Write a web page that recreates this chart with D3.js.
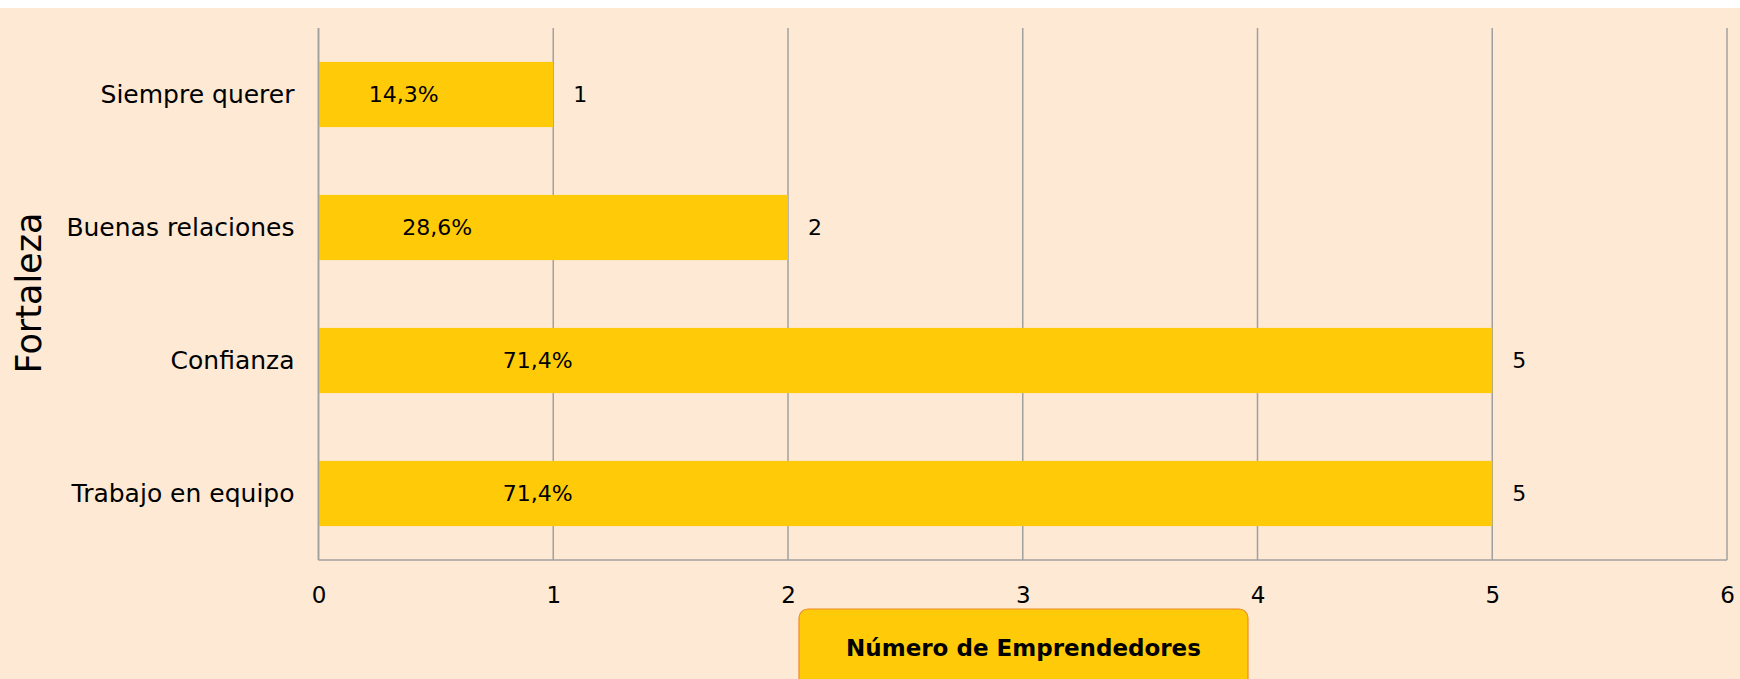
<!DOCTYPE html>
<html>
<head>
<meta charset="utf-8">
<script src="https://cdn.jsdelivr.net/npm/d3@7"></script>
<style>
  body { margin: 0; background: #ffffff; }
  text { font-family: "DejaVu Sans", sans-serif; fill: #000; }
</style>
</head>
<body>
<div id="chart"></div>
<script>
// data
const categories = ["Siempre querer", "Buenas relaciones", "Confianza", "Trabajo en equipo"];
const counts = [1, 2, 5, 5];
const percents = [14.3, 28.6, 71.4, 71.4];
const xTicks = [0, 1, 2, 3, 4, 5, 6];
const yTitle = "Fortaleza";
const xTitle = "Número de Emprendedores";

const width = 1740, height = 679;
const margin = {top: 28, right: 9, bottom: 119, left: 318.5};
const innerWidth = width - margin.left - margin.right;
const innerHeight = height - margin.top - margin.bottom;

const barColor = "#ffcb08";
const gridColor = "#a0a0a0";

const svg = d3.select("#chart")
    .append("svg")
    .attr("width", width)
    .attr("height", height);

// background
svg.append("rect")
    .attr("x", 0).attr("y", 8)
    .attr("width", width).attr("height", height - 8)
    .attr("fill", "#fde9d4");

const g = svg.append("g")
    .attr("transform", `translate(${margin.left},${margin.top})`);

const xScale = d3.scaleLinear().domain([0, 6]).range([0, innerWidth - 4]);
const yScale = d3.scaleBand().domain(categories).range([0, innerHeight])
    .paddingInner(0.51).paddingOuter(0.255);

// ---- gridlines ----
g.selectAll(".grid")
    .data(xTicks)
    .join("line")
    .attr("x1", d => xScale(d)).attr("x2", d => xScale(d))
    .attr("y1", 0).attr("y2", innerHeight)
    .attr("stroke", gridColor)
    .attr("stroke-width", 1.5);

// ---- bars ----
g.selectAll(".bar")
    .data(categories)
    .join("rect")
    .attr("x", xScale(0))
    .attr("y", d => yScale(d))
    .attr("width", (d, i) => xScale(counts[i]) - xScale(0))
    .attr("height", yScale.bandwidth())
    .attr("fill", barColor);

// baseline + left axis line
g.append("line")
    .attr("x1", 0).attr("x2", xScale(6))
    .attr("y1", innerHeight).attr("y2", innerHeight)
    .attr("stroke", gridColor).attr("stroke-width", 1.5);
g.append("line")
    .attr("x1", 0).attr("x2", 0)
    .attr("y1", 0).attr("y2", innerHeight)
    .attr("stroke", gridColor).attr("stroke-width", 1.5);

// ---- bottom axis labels ----
const xAxis = g.append("g")
    .attr("transform", `translate(0,${innerHeight})`)
    .call(d3.axisBottom(xScale).tickValues(xTicks).tickSize(0).tickPadding(0).tickFormat(d3.format("d")));
xAxis.select(".domain").remove();
xAxis.attr("font-size", null).attr("font-family", null);
xAxis.selectAll("text")
    .attr("y", 35)
    .attr("dy", "0.35em")
    .style("font-size", "23px")
    .attr("fill", "#000");

// ---- left axis labels ----
const yAxis = g.append("g")
    .call(d3.axisLeft(yScale).tickSize(0).tickPadding(24));
yAxis.select(".domain").remove();
yAxis.attr("font-size", null).attr("font-family", null);
yAxis.selectAll("text")
    .style("font-size", "25px")
    .attr("fill", "#000");

// ---- value labels ----
g.selectAll(".val")
    .data(categories)
    .join("text")
    .attr("x", (d, i) => xScale(counts[i]) + 20)
    .attr("y", d => yScale(d) + yScale.bandwidth() / 2)
    .attr("dy", "0.35em")
    .style("font-size", "22px")
    .text((d, i) => counts[i]);

// ---- percent labels ----
g.selectAll(".pct")
    .data(categories)
    .join("text")
    .attr("x", (d, i) => xScale(percents[i] / 100 + 0.22))
    .attr("y", d => yScale(d) + yScale.bandwidth() / 2)
    .attr("dy", "0.35em")
    .attr("text-anchor", "middle")
    .style("font-size", "22px")
    .text((d, i) => d3.format(".1f")(percents[i]).replace(".", ",") + "%");

// ---- y title ----
svg.append("text")
    .attr("transform", `translate(41,${margin.top + 265}) rotate(-90)`)
    .attr("text-anchor", "middle")
    .style("font-size", "35px")
    .text(yTitle);

// ---- x title box ----
svg.append("rect")
    .attr("x", 799).attr("y", 609)
    .attr("width", 449).attr("height", 90)
    .attr("rx", 9)
    .attr("fill", barColor)
    .attr("stroke", "#f08a24")
    .attr("stroke-width", 1.2);
svg.append("text")
    .attr("x", 1023.5).attr("y", 648)
    .attr("dy", "0.35em")
    .attr("text-anchor", "middle")
    .style("font-size", "23px")
    .style("font-weight", "bold")
    .text(xTitle);
</script>
</body>
</html>
